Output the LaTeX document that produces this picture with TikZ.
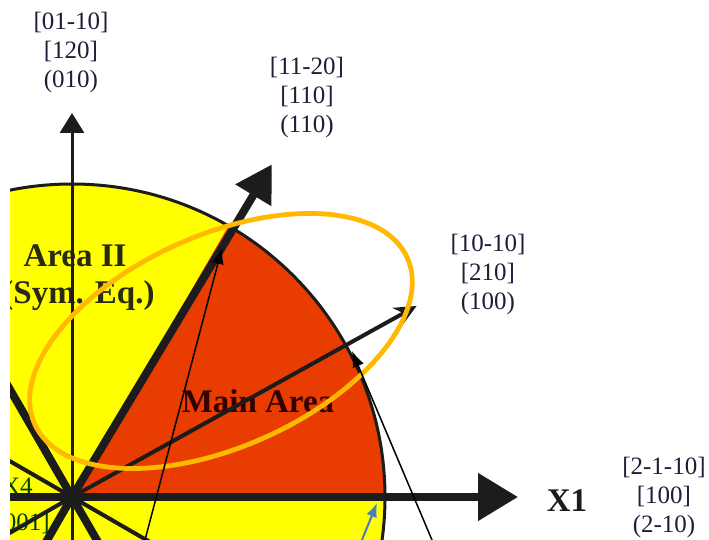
\documentclass[tikz,border=0pt]{standalone}
\usepackage{fontspec}
\setmainfont{Liberation Serif}
\usetikzlibrary{arrows.meta}

\definecolor{areayellow}{HTML}{FFFF00}
\definecolor{mainred}{HTML}{E83C00}
\definecolor{ringamber}{HTML}{FFB900}
\definecolor{hintblue}{HTML}{4A7EBB}
\definecolor{axisdark}{HTML}{1C1C1C}
\definecolor{labelink}{HTML}{1E1E3A}
\definecolor{areaink}{HTML}{2A2A12}

\begin{document}
\begin{tikzpicture}[
  x=0.5pt, y=0.5pt,
  dirlabel/.style={align=center, text=labelink, font=\fontsize{12.5}{14.5}\selectfont},
  arealabel/.style={text=areaink, font=\fontsize{16.5}{19}\selectfont\bfseries},
  cornerlabel/.style={text=black!75!green, inner sep=0pt, font=\fontsize{12.5}{14.5}\selectfont},
  thickray/.style={draw=axisdark, line width=4pt},
  thinray/.style={draw=axisdark, line width=2pt},
  pointer/.style={-{Latex[length=8pt,width=6pt]}, line width=0.75pt},
  bigarrow/.style={-{Triangle[length=20pt,width=23pt]}, draw=axisdark, line width=4pt}
]
\useasboundingbox (-72,-43) rectangle (637,497);
\clip (-62,-43) rectangle (637,497);

\coordinate (O) at (0,0);
\coordinate (p60) at (150,249);
\coordinate (p30) at (280,146);
\coordinate (p0) at (305,-6);

% disc and main sector
\fill[areayellow] (O) circle (313);
\fill[mainred] (O) -- (0:313) arc[start angle=0, end angle=60, radius=313] -- cycle;

\node[arealabel] (area2) at (3,241) {Area II};
\node[arealabel, inner sep=0pt, anchor=east] (sym) at (83,201) {(Sym. Eq.)};
\node[arealabel, text=black!80!red] (main) at (186,96) {Main Area};
\node[cornerlabel, anchor=east] (x4) at (-39,11) {X4};
\node[cornerlabel, anchor=east] (c0001) at (-22,-27) {[0001]};

% radial lines of the hexagon
\foreach \a in {120,240,300}
  \draw[thickray] (O) -- (\a:330);
\foreach \a in {150,210,330}
  \draw[thinray] (O) -- (\a:330);
\draw[axisdark, line width=1.5pt] (O) circle (313);

\draw[axisdark, line width=1.5pt, -{Triangle[length=10pt,width=12pt]}] (0,-60) -- (0,384) coordinate (ytip);
\draw[axisdark, line width=2pt, -{Stealth[length=11pt,width=10pt]}] (O) -- (29:394) coordinate (tip30);
\draw[axisdark, line width=4pt, -{Triangle[length=18pt,width=20pt]}] (O) -- (59:388) coordinate (tip60);
\draw[bigarrow] (-90,0) -- (446,0) coordinate (xtip);

\node[dirlabel] (d010) at (-1,445) {[01-10]\\{[120]}\\(010)};
\node[dirlabel] (d110) at (235,400) {[11-20]\\{[110]}\\(110)};
\node[dirlabel] (d100) at (416,223) {[10-10]\\{[210]}\\(100)};
\node[dirlabel] (d2m10) at (592,0) {[2-1-10]\\{[100]}\\(2-10)};
\node[arealabel, text=axisdark] (x1) at (495,-4) {X1};

\draw[ringamber, line width=2.4pt, rotate around={24:(149,156)}] (149,156) ellipse [x radius=204, y radius=106];

\coordinate (t60) at (73,-43);
\coordinate (t30) at (360,-43);
\coordinate (t0) at (290,-43);
\draw[pointer] (t60) -- (p60);
\draw[pointer] (t30) -- (p30);
\draw[pointer, hintblue, line width=1pt, -{Latex[length=7pt,width=5.5pt]}] (t0) -- (p0);

\end{tikzpicture}
\end{document}
